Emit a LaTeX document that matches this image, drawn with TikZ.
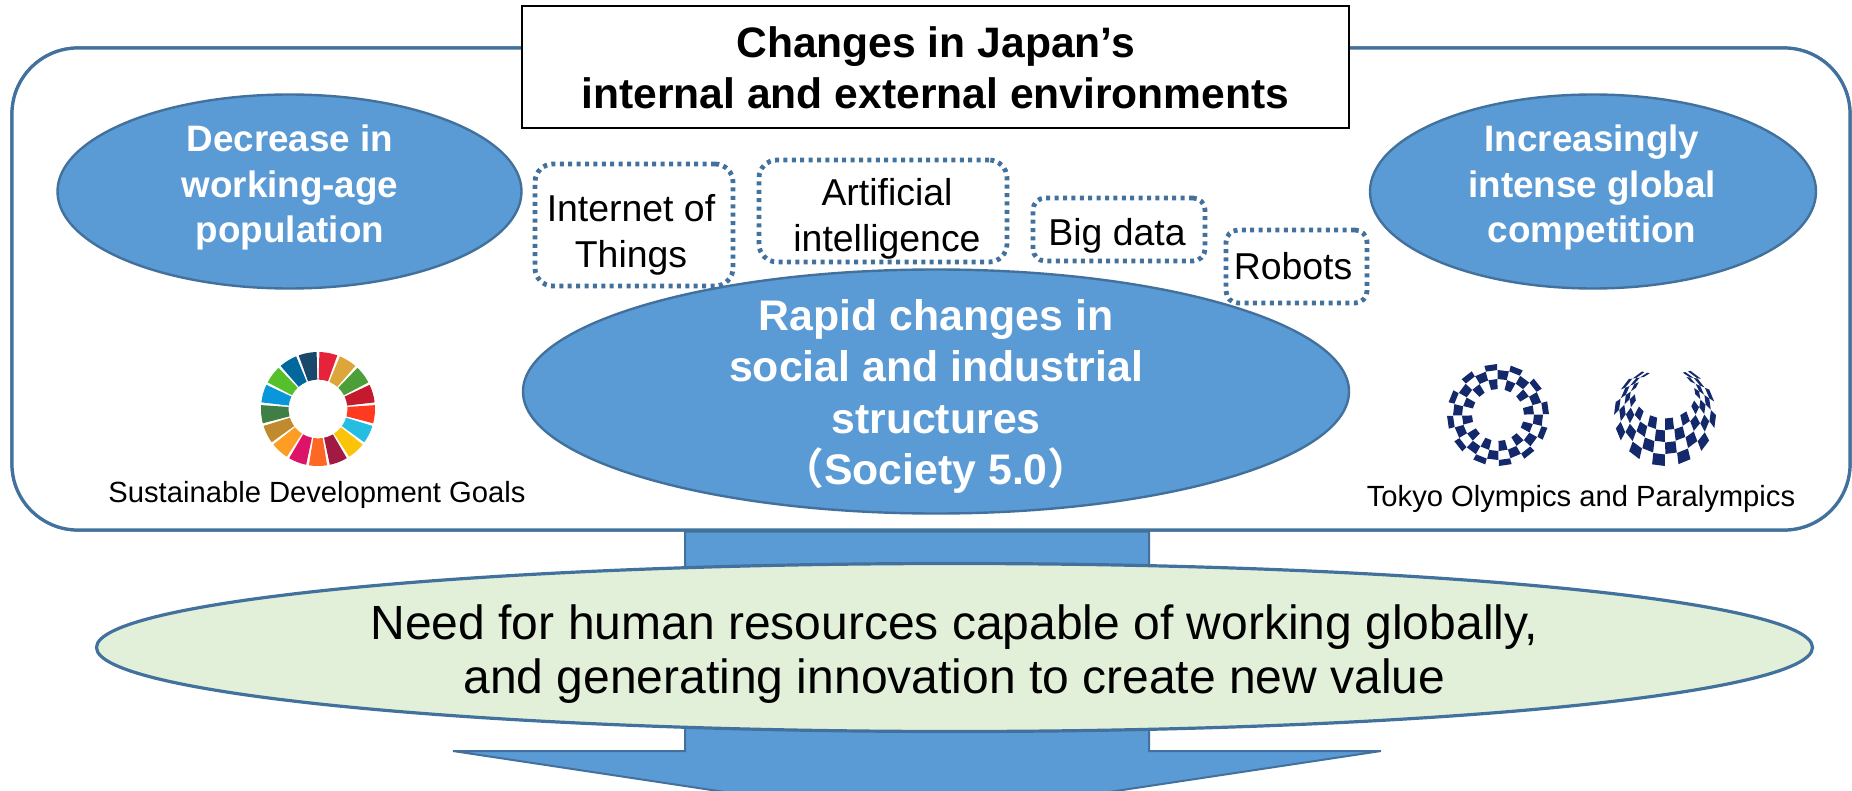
\documentclass[tikz,border=0pt]{standalone}
\usepackage{fontspec}
\setmainfont{Liberation Sans}
\newfontfamily\cjkfont{Noto Sans CJK JP}[BoldFont={* Bold}]
\usetikzlibrary{shapes.geometric}
\definecolor{edge}{HTML}{41719C}
\definecolor{bluefill}{HTML}{5B9BD5}
\definecolor{greenfill}{HTML}{E2F0D9}
\definecolor{navyc}{HTML}{14296B}
\definecolor{sdg1}{HTML}{E5243B}\definecolor{sdg2}{HTML}{DDA63A}\definecolor{sdg3}{HTML}{4C9F38}
\definecolor{sdg4}{HTML}{C5192D}\definecolor{sdg5}{HTML}{FF3A21}\definecolor{sdg6}{HTML}{26BDE2}
\definecolor{sdg7}{HTML}{FCC30B}\definecolor{sdg8}{HTML}{A21942}\definecolor{sdg9}{HTML}{FD6925}
\definecolor{sdg10}{HTML}{DD1367}\definecolor{sdg11}{HTML}{FD9D24}\definecolor{sdg12}{HTML}{BF8B2E}
\definecolor{sdg13}{HTML}{3F7E44}\definecolor{sdg14}{HTML}{0A97D9}\definecolor{sdg15}{HTML}{56C02B}
\definecolor{sdg16}{HTML}{00689D}\definecolor{sdg17}{HTML}{19486A}
\newcommand\parapt[2]{({(1-#2)*30*sin(#1)+#2*51*sin(#1)},{(1-#2)*(21-24*cos(#1))-#2*51*cos(#1)})}
\tikzset{
  blueell/.style={ellipse,draw=edge,line width=1.2pt,fill=bluefill,inner sep=0pt},
  whitebold/.style={text=white,font=\fontsize{18.4}{22.6}\selectfont\bfseries,align=center,inner sep=0pt},
  dotbox/.style={draw=edge,line width=2.4pt,dash pattern=on 2pt off 2.2pt,rounded corners=9pt,inner sep=0pt},
  boxtext/.style={inner sep=0pt,align=center,font=\fontsize{18.7}{23}\selectfont},
  smalltext/.style={font=\fontsize{14.6}{17}\selectfont,inner sep=0pt}
}
\begin{document}
\begin{tikzpicture}[x=0.5pt,y=-0.5pt]
\useasboundingbox (0,0) rectangle (1852,791);
\clip (0,0) rectangle (1852,791);
\node[draw=edge,line width=1.6pt,fill=white,rounded corners=33pt,minimum width=919pt,minimum height=241pt,inner sep=0pt] (frame) at (931,289) {};
\coordinate (al) at (frame.south -| 685,0);
\coordinate (ar) at (frame.south -| 1149,0);
\coordinate (tipl) at (453,751);
\coordinate (tipr) at (1381,751);
\coordinate (apex) at (917,821);
\fill[bluefill,draw=edge,line width=1pt] (al) -- (685,751) -- (tipl) -- (apex) -- (tipr) -- (1149,751) -- (ar) -- cycle;
\node[draw=edge,line width=1.6pt,fill=white,rounded corners=33pt,minimum width=919pt,minimum height=241pt,inner sep=0pt] (frametop) at (931,289) {};
\node[draw=black,line width=1pt,fill=white,minimum width=413.5pt,minimum height=61pt,inner sep=0pt,align=center,
  font=\fontsize{21.3}{25.7}\selectfont\bfseries] (title) at (935.5,67.5) {Changes in Japan’s\\internal and external environments};
\node[blueell,minimum width=232pt,minimum height=97pt] (left) at (289.5,191.5) {};
\node[whitebold] (leftt) at (290,187.5) {Decrease in\\working-age\\population};
\node[blueell,minimum width=223pt,minimum height=97pt] (right) at (1593,191.5) {};
\node[whitebold] (rightt) at (1592,187.5) {Increasingly\\intense global\\competition};
\node[blueell,minimum width=413pt,minimum height=122pt] (center) at (936,391.5) {};
\node[whitebold,font=\fontsize{21.4}{25.7}\selectfont\bfseries] (centert) at (936,396.5) {Rapid changes in\\social and industrial\\structures\\{\cjkfont （}Society 5.0{\cjkfont ）}};
\node[dotbox,minimum width=99pt,minimum height=61pt] (iot) at (634,225) {};
\node[boxtext] (iott) at (631,235) {Internet of\\Things};
\node[dotbox,minimum width=124pt,minimum height=51pt] (ai) at (883,211) {};
\node[boxtext] (ait) at (887,219) {Artificial\\intelligence};
\node[dotbox,minimum width=86pt,minimum height=31.5pt,rounded corners=6pt] (big) at (1119,229.5) {};
\node[boxtext] (bigt) at (1117,236) {Big data};
\node[dotbox,minimum width=70.5pt,minimum height=36.5pt,rounded corners=6pt] (robots) at (1296.5,266.5) {};
\node[boxtext] (robotst) at (1293,266.5) {Robots};
% SDG wheel
\begin{scope}[shift={(318,409)},x=0.5pt,y=0.5pt]
\foreach \k [count=\n from 0] in {1,...,17}{
  \pgfmathsetmacro\sa{90-\n*21.176-1.4}
  \pgfmathsetmacro\sb{\sa-18.4}
  \fill[sdg\k] (\sa:14.7pt) arc[start angle=\sa,end angle=\sb,radius=14.7pt] -- (\sb:28.5pt) arc[start angle=\sb,end angle=\sa,radius=28.5pt] -- cycle;
}
\end{scope}
\node[smalltext] (sdgt) at (317,495) {Sustainable Development Goals};
% Olympic emblem
\begin{scope}[shift={(1498,415)},x=0.5pt,y=0.5pt]
\foreach \ra/\rb/\o in {26/36/0,36/45/1,45/51/0}{
  \foreach \i in {0,...,23}{
    \pgfmathtruncatemacro\m{mod(\i+\o,2)}
    \ifnum\m=0
      \pgfmathsetmacro\ta{15*\i+1}
      \pgfmathsetmacro\tb{15*\i+15.5}
      \fill[navyc] (\ta:\ra) -- (\tb:\ra) -- (\tb:\rb) -- (\ta:\rb) -- cycle;
    \fi
  }
}
\end{scope}
% Paralympic emblem
\begin{scope}[shift={(1665,415)},x=0.5pt,y=0.5pt]
\foreach \i in {0,...,19}{
  \foreach \j in {0,...,3}{
    \pgfmathtruncatemacro\m{mod(\i+\j,2)}
    \ifnum\m=0
      \pgfmathsetmacro\ta{-150+15*\i+0.3}
      \pgfmathsetmacro\tb{-150+15*\i+14.9}
      \pgfmathsetmacro\ua{\j/4+0.01}
      \pgfmathsetmacro\ub{(\j+1)/4}
      \fill[navyc] \parapt{\ta}{\ua} -- \parapt{\tb}{\ua} -- \parapt{\tb}{\ub} -- \parapt{\ta}{\ub} -- cycle;
    \fi
  }
}
\end{scope}
\node[smalltext] (tokyot) at (1581,499) {Tokyo Olympics and Paralympics};
\node[ellipse,draw=edge,line width=1.6pt,fill=greenfill,minimum width=858pt,minimum height=84pt,inner sep=0pt] (need) at (954.5,647.5) {};
\node[inner sep=0pt,align=center,font=\fontsize{24}{27.2}\selectfont] (needt) at (954.5,654) {Need for human resources capable of working globally,\\and generating innovation to create new value};
\end{tikzpicture}
\end{document}
